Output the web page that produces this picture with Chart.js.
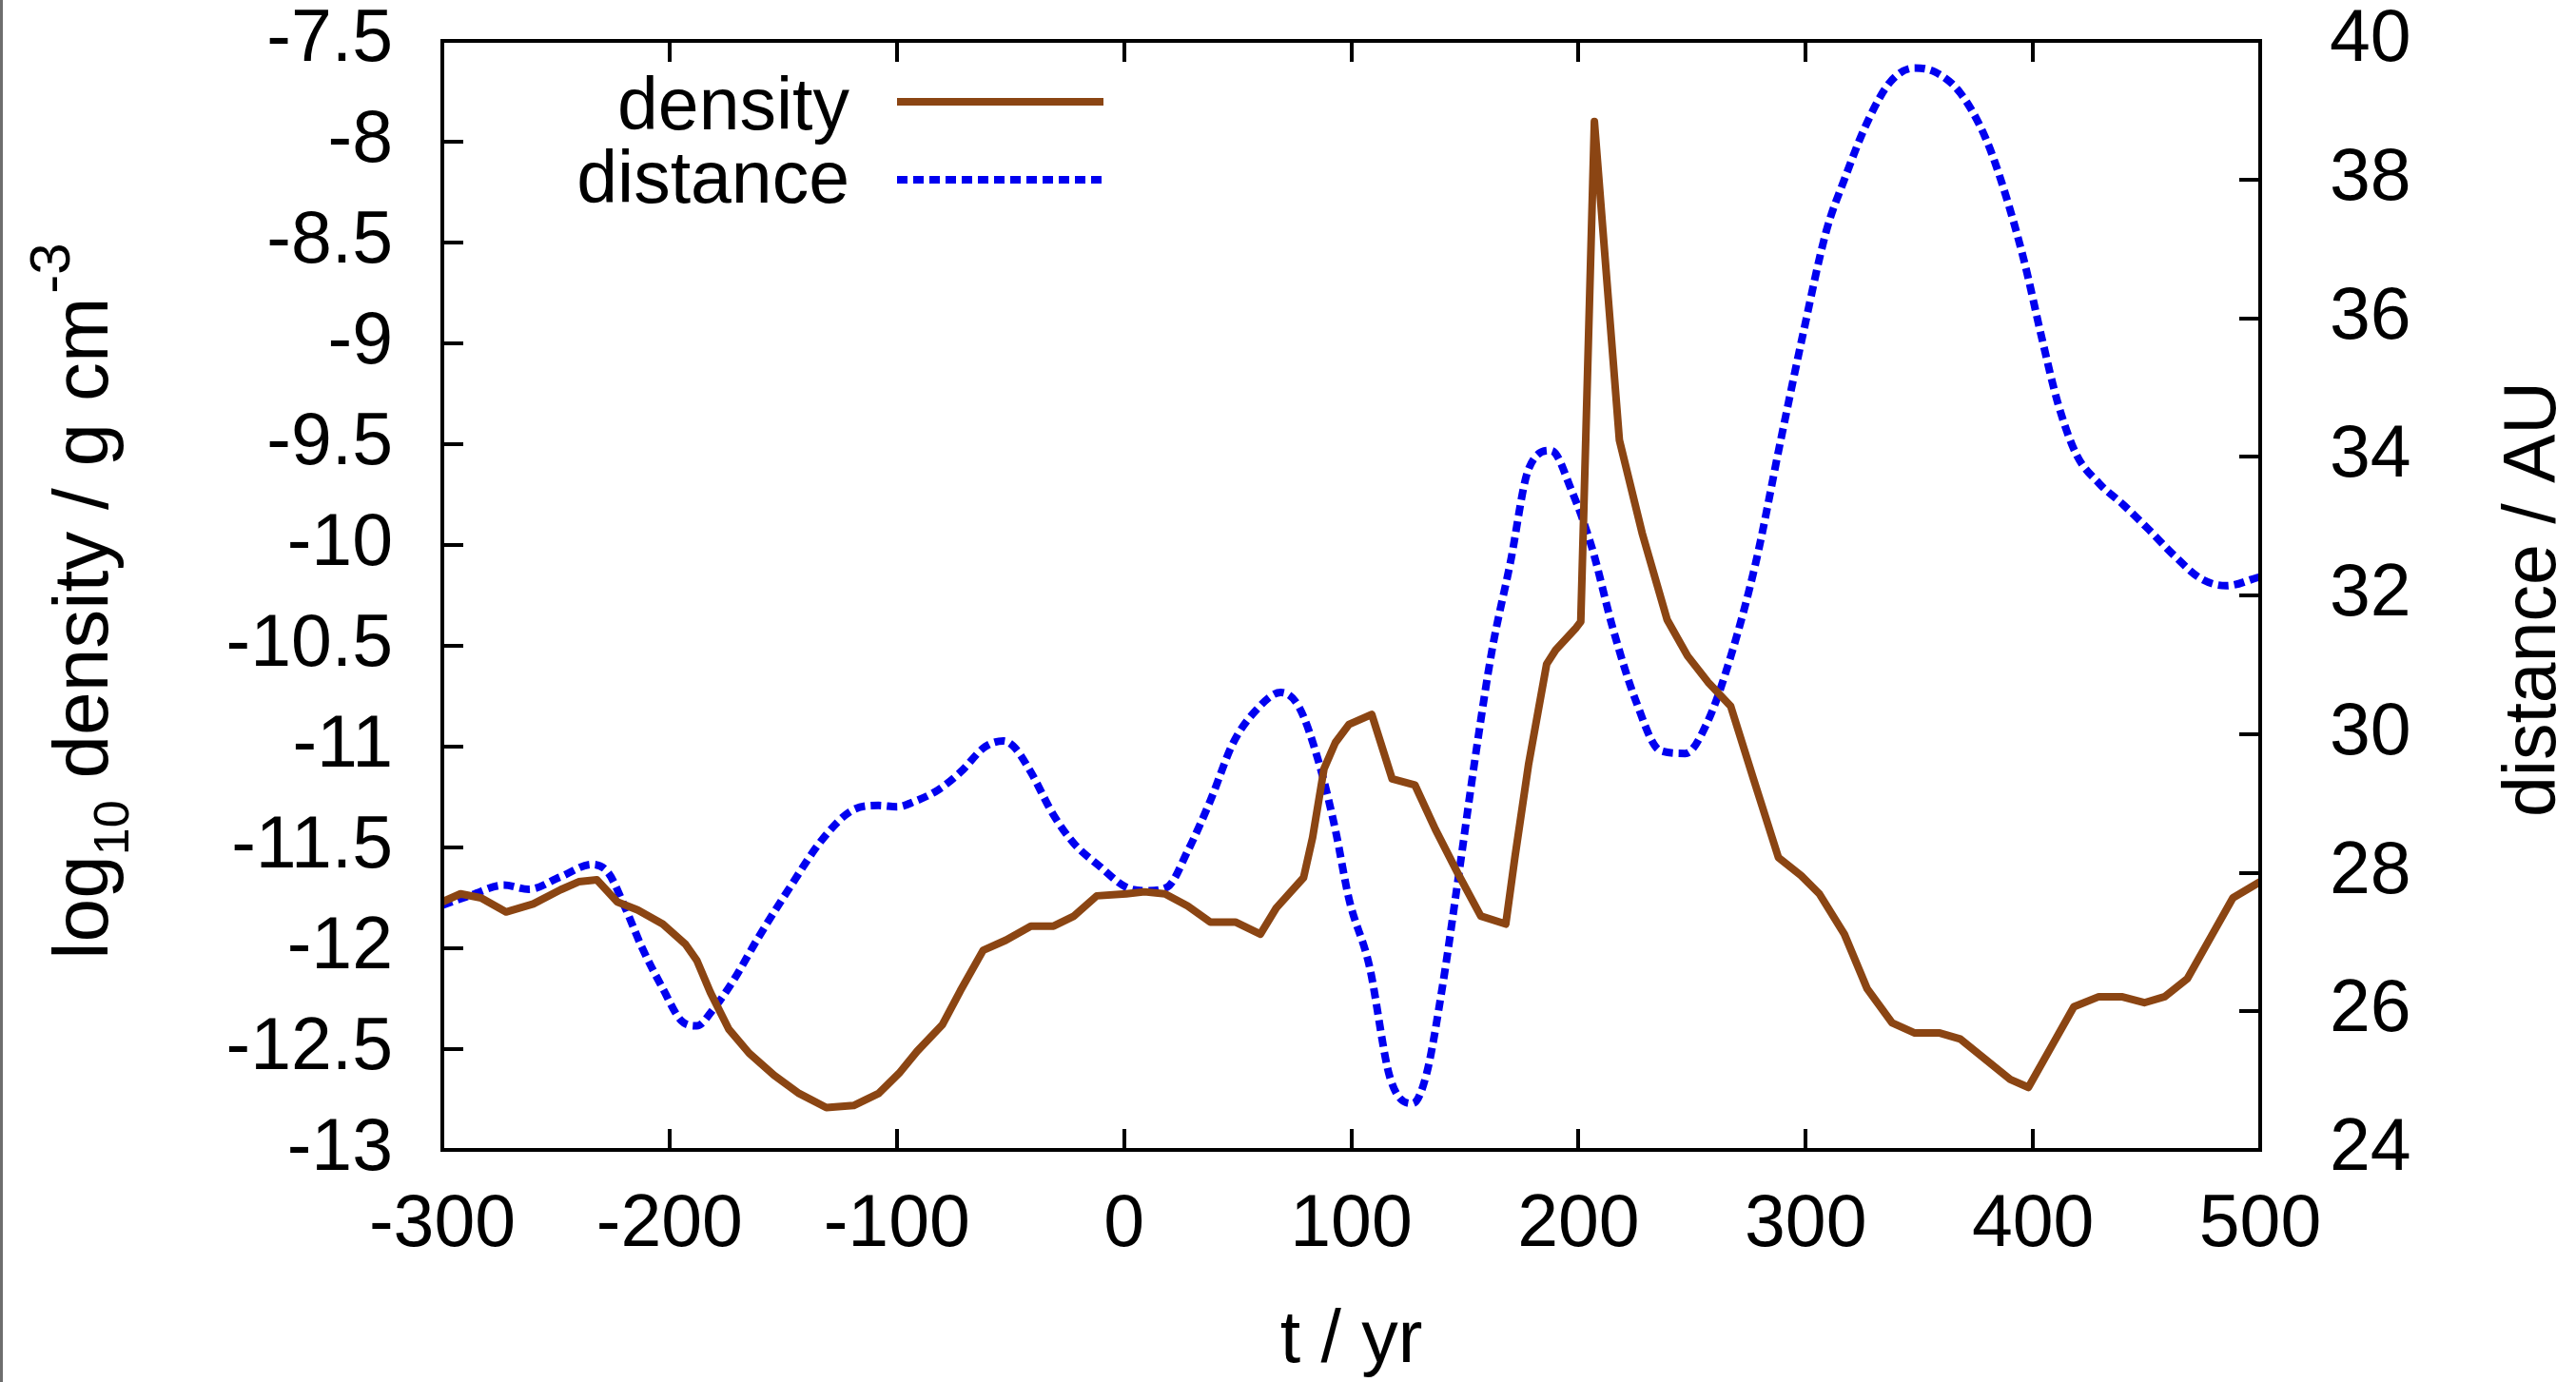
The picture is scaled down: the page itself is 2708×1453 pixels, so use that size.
<!DOCTYPE html>
<html>
<head>
<meta charset="utf-8">
<script src="https://cdn.jsdelivr.net/npm/chart.js@4/dist/chart.umd.min.js"></script>
<style>
  html, body { margin: 0; padding: 0; background: #ffffff; }
  canvas { display: block; }
</style>
</head>
<body>
<canvas id="chart" width="2708" height="1453"></canvas>
<script>
// Time axis (years) and the two tracked quantities.
const densityTime = [-300, -292, -283, -272, -260, -248, -240, -232, -223, -214, -203, -193, -188, -182, -174, -165, -154, -143, -131, -119, -108, -99, -91, -80, -72, -62, -52, -41, -31, -22, -12, 1, 9, 18, 28, 38, 49, 60, 67, 79, 83, 88, 93, 99, 109, 118, 128, 137, 147, 157, 168, 172, 178, 186, 190, 199, 201, 207, 218, 228, 239, 248, 257, 267, 277, 288, 298, 306, 317, 327, 338, 348, 359, 368, 379, 390, 398, 408, 418, 429, 439, 449, 458, 468, 478, 488, 500];
const densityLog = [-11.77, -11.73, -11.75, -11.82, -11.78, -11.71, -11.67, -11.66, -11.77, -11.81, -11.88, -11.98, -12.06, -12.22, -12.40, -12.52, -12.63, -12.72, -12.79, -12.78, -12.72, -12.62, -12.51, -12.38, -12.21, -12.01, -11.96, -11.89, -11.89, -11.84, -11.74, -11.73, -11.72, -11.73, -11.79, -11.87, -11.87, -11.93, -11.80, -11.65, -11.45, -11.11, -10.98, -10.89, -10.84, -11.16, -11.19, -11.41, -11.63, -11.84, -11.88, -11.55, -11.09, -10.59, -10.52, -10.41, -10.38, -7.90, -9.48, -9.94, -10.37, -10.55, -10.68, -10.80, -11.16, -11.55, -11.64, -11.73, -11.93, -12.20, -12.37, -12.42, -12.42, -12.45, -12.55, -12.65, -12.69, -12.49, -12.29, -12.24, -12.24, -12.27, -12.24, -12.15, -11.95, -11.75, -11.67];

const distanceTime = [-300, -287, -273, -262, -248, -234, -227, -220, -212, -203, -195, -188, -181, -172, -161, -147, -133, -119, -108, -100, -92, -82, -72, -61, -53, -48, -41, -31, -22, -11, 1, 10, 19, 28, 38, 48, 58, 69, 77, 86, 93, 99, 108, 117, 127, 133, 140, 147, 155, 162, 170, 178, 188, 197, 206, 215, 225, 236, 247, 257, 267, 278, 289, 299, 309, 317, 327, 337, 348, 357, 368, 379, 387, 396, 404, 411, 419, 429, 440, 451, 462, 474, 485, 500];
const distanceAU = [27.53, 27.68, 27.82, 27.76, 27.94, 28.12, 28.00, 27.53, 26.91, 26.33, 25.87, 25.79, 26.02, 26.44, 27.06, 27.79, 28.47, 28.91, 28.97, 28.95, 29.03, 29.19, 29.45, 29.82, 29.90, 29.80, 29.45, 28.83, 28.42, 28.10, 27.79, 27.74, 27.79, 28.31, 29.04, 29.87, 30.34, 30.60, 30.39, 29.56, 28.62, 27.62, 26.65, 25.05, 24.67, 25.08, 26.33, 27.90, 29.76, 31.22, 32.47, 33.82, 34.09, 33.51, 32.68, 31.54, 30.50, 29.76, 29.72, 30.19, 31.12, 32.47, 34.24, 35.80, 37.25, 38.00, 38.82, 39.40, 39.61, 39.55, 39.25, 38.61, 37.88, 36.84, 35.70, 34.77, 34.04, 33.62, 33.30, 32.95, 32.58, 32.24, 32.14, 32.27];

// Tick values for the three axes.
const timeTicks = [-300, -200, -100, 0, 100, 200, 300, 400, 500];
const densityTicks = [-13, -12.5, -12, -11.5, -11, -10.5, -10, -9.5, -9, -8.5, -8, -7.5];
const distanceTicks = [24, 26, 28, 30, 32, 34, 36, 38, 40];

const seriesNames = ['density', 'distance'];

const FONT = '"Liberation Sans", Arial, Helvetica, sans-serif';
const FS = 77;
const BROWN = '#8b4513';
const BLUE = '#0000f0';
const TICK_LEN = 22;

function toPoints(xs, ys) {
  return xs.map((x, i) => ({ x: x, y: ys[i] }));
}

function setTicks(values) {
  return (scale) => { scale.ticks = values.map(v => ({ value: v })); };
}

// Fix the box of a scale so the plot frame lands where it should.
function fixVertical(width) {
  return (s) => { s.width = width; s.paddingTop = 0; s.paddingBottom = 0; };
}

// Draws a run of text pieces (with sub/superscripts) rotated to read bottom-to-top.
function drawVerticalText(ctx, baseX, centerY, pieces) {
  let total = 0;
  pieces.forEach(p => {
    ctx.font = p.size + 'px ' + FONT;
    p.w = ctx.measureText(p.text).width;
    total += p.w + (p.gap || 0);
  });
  ctx.save();
  ctx.translate(baseX, centerY);
  ctx.rotate(-Math.PI / 2);
  ctx.fillStyle = '#000';
  ctx.textBaseline = 'alphabetic';
  ctx.textAlign = 'left';
  let x = -total / 2;
  pieces.forEach(p => {
    ctx.font = p.size + 'px ' + FONT;
    x += p.gap || 0;
    ctx.fillText(p.text, x, p.dy || 0);
    x += p.w;
  });
  ctx.restore();
}

const framePlugin = {
  id: 'frameAndDecor',
  afterDraw(chart) {
    const { ctx, chartArea } = chart;
    const { left, right, top, bottom } = chartArea;
    const xs = chart.scales.x, ys = chart.scales.y, y2s = chart.scales.y2;
    ctx.save();

    // thin border on the left edge of the figure
    ctx.fillStyle = '#6e6e6e';
    ctx.fillRect(0, 0, 3, chart.height);

    // inward tick marks
    ctx.strokeStyle = '#000';
    ctx.lineWidth = 4;
    ctx.lineCap = 'butt';
    ctx.beginPath();
    timeTicks.forEach(v => {
      const px = Math.round(xs.getPixelForValue(v));
      ctx.moveTo(px, bottom); ctx.lineTo(px, bottom - TICK_LEN);
      ctx.moveTo(px, top); ctx.lineTo(px, top + TICK_LEN);
    });
    densityTicks.forEach(v => {
      const py = Math.round(ys.getPixelForValue(v));
      ctx.moveTo(left, py); ctx.lineTo(left + TICK_LEN, py);
    });
    distanceTicks.forEach(v => {
      const py = Math.round(y2s.getPixelForValue(v));
      ctx.moveTo(right, py); ctx.lineTo(right - TICK_LEN, py);
    });
    ctx.stroke();

    // plot frame
    ctx.lineWidth = 4;
    ctx.strokeRect(left, top, right - left, bottom - top);

    // axis titles
    drawVerticalText(ctx, 113, 632, [
      { text: 'log', size: 82 },
      { text: '10', size: 52, dy: 22 },
      { text: ' density / g cm', size: 82 },
      { text: '-3', size: 60, dy: -40, gap: 4 }
    ]);
    drawVerticalText(ctx, 2686, 630, [
      { text: 'distance / AU', size: FS }
    ]);

    // key, top-left inside the frame
    const ds = chart.data.datasets;
    const keyLines = [107, 189];
    const keyText = [115, 192];
    ctx.font = FS + 'px ' + FONT;
    ctx.textAlign = 'right';
    ctx.textBaseline = 'middle';
    ctx.fillStyle = '#000';
    ds.forEach((d, i) => {
      ctx.fillText(d.label, 893, keyText[i]);
      ctx.save();
      ctx.strokeStyle = d.borderColor;
      ctx.lineWidth = d.borderWidth;
      ctx.setLineDash(d.borderDash || []);
      ctx.lineCap = 'butt';
      ctx.beginPath();
      ctx.moveTo(943, keyLines[i]);
      ctx.lineTo(1160, keyLines[i]);
      ctx.stroke();
      ctx.restore();
    });
    ctx.restore();
  }
};

const chart = new Chart(document.getElementById('chart').getContext('2d'), {
  type: 'line',
  data: {
    datasets: [
      {
        label: seriesNames[0],
        data: toPoints(densityTime, densityLog),
        yAxisID: 'y',
        borderColor: BROWN,
        borderWidth: 8,
        borderJoinStyle: 'round',
        borderCapStyle: 'round',
        pointRadius: 0,
        tension: 0,
        fill: false
      },
      {
        label: seriesNames[1],
        data: toPoints(distanceTime, distanceAU),
        yAxisID: 'y2',
        borderColor: BLUE,
        borderWidth: 8,
        borderDash: [11, 6],
        borderCapStyle: 'butt',
        cubicInterpolationMode: 'monotone',
        pointRadius: 0,
        fill: false
      }
    ]
  },
  options: {
    responsive: false,
    animation: false,
    devicePixelRatio: 1,
    layout: { padding: { top: 43, left: 0, right: 0, bottom: 0 } },
    plugins: { legend: { display: false }, tooltip: { enabled: false } },
    scales: {
      x: {
        type: 'linear',
        position: 'bottom',
        min: -300,
        max: 500,
        afterBuildTicks: setTicks(timeTicks),
        afterFit: (s) => { s.height = 244; s.paddingLeft = 0; s.paddingRight = 0; },
        grid: { display: false, drawTicks: false },
        border: { display: false },
        ticks: {
          autoSkip: false, maxRotation: 0, minRotation: 0, padding: 34,
          color: '#000', font: { family: FONT, size: FS },
          callback: (v) => String(v)
        },
        title: {
          display: true, text: 't / yr', color: '#000',
          font: { family: FONT, size: FS, lineHeight: 1.1 }, padding: { top: 0, bottom: 0 }
        }
      },
      y: {
        type: 'linear',
        position: 'left',
        min: -13,
        max: -7.5,
        afterBuildTicks: setTicks(densityTicks),
        afterFit: fixVertical(465),
        grid: { display: false, drawTicks: false },
        border: { display: false },
        ticks: {
          autoSkip: false, padding: 52, color: '#000',
          font: { family: FONT, size: FS },
          callback: (v) => String(v)
        }
      },
      y2: {
        type: 'linear',
        position: 'right',
        min: 24,
        max: 40,
        afterBuildTicks: setTicks(distanceTicks),
        afterFit: fixVertical(332),
        grid: { display: false, drawTicks: false },
        border: { display: false },
        ticks: {
          autoSkip: false, padding: 73, color: '#000',
          font: { family: FONT, size: FS },
          callback: (v) => String(v)
        }
      }
    }
  },
  plugins: [framePlugin]
});
</script>
</body>
</html>
